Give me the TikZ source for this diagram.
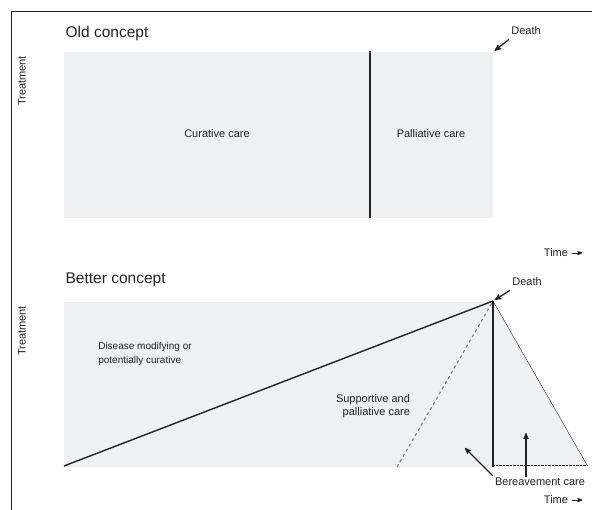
\documentclass[tikz,border=0pt]{standalone}
\usepackage{fontspec}
\setmainfont{Liberation Sans}
\usetikzlibrary{arrows}

\definecolor{areagray}{HTML}{EFF0F1}
\definecolor{inkgray}{HTML}{222222}

\begin{document}
\begin{tikzpicture}[x=1pt,y=-1pt,>=stealth',semithick,inkgray]
\tikzstyle{title}=[anchor=west,font=\fontsize{15.5pt}{18pt}\selectfont]
\tikzstyle{label}=[font=\fontsize{11pt}{13.5pt}\selectfont,inner sep=1pt]
\tikzstyle{axis}=[label,rotate=90]
\tikzset{pointer/.style={->,line width=1.3pt,shorten >=2pt}}

  \useasboundingbox (0,0) rectangle (592,510);
  % frame
  \draw[thin] (592,11) -- (11,11) -- (11,510);

  % old concept
  \fill[areagray] (64,52) rectangle (493,218);
  \draw[line width=1.8pt] (370,51) -- (370,218);
  \coordinate (death1) at (493,52);
        \node[title]                (old)     at (62,33)    {Old concept};
        \node[axis]                 (treat1)  at (22,81)    {Treatment};
        \node[label]                (cure)    at (217,134)  {Curative care};
        \node[label]                (pall)    at (431,134)  {Palliative care};
        \node[label]                (dlbl1)   at (526,31)   {Death};
        \node[label]                (time1)   at (556,253)  {Time};
  \draw[pointer] (dlbl1.south west) ++(-1,3) -- (death1);
  \draw[->,thick] (time1.east) ++(3,0) -- +(10,0);

  % better concept
  \coordinate (death2) at (493,301);
  \coordinate (left2)  at (64,466);
  \coordinate (dash2)  at (397,467);
  \coordinate (foot2)  at (493,467);
  \coordinate (tip2)   at (587,465);
  \coordinate (base2)  at (493,465);
  \fill[areagray] (64,302) rectangle (493,467);
  \fill[areagray] (death2) -- (tip2) -- (base2) -- cycle;
        \node[title]                (better)  at (62,280)   {Better concept};
        \node[axis]                 (treat2)  at (22,331)   {Treatment};
        \node[label,align=left,anchor=west,
              font=\fontsize{10pt}{14pt}\selectfont]
                                    (dis)     at (97,354)   {Disease modifying or\\potentially curative};
        \node[label,align=right]    (supp)    at (373,406)  {Supportive and\\palliative care};
        \node[label]                (dlbl2)   at (527,282)  {Death};
        \node[label]                (ber)     at (540,482)  {Bereavement care};
        \node[label]                (time2)   at (556,500)  {Time};
  \draw[line width=1.4pt] (left2) -- (death2);
  \draw[line width=1.2pt,dashed,gray] (dash2) -- (death2);
  \draw[line width=1.8pt] (death2) -- (foot2);
  \draw[thin] (death2) -- (tip2);
  \draw[thin,densely dotted] (base2) -- (tip2);
  \draw[pointer] (dlbl2.south west) ++(-1,3) -- (death2);
  \draw[->,line width=1.2pt] (ber.north -| 526,0) -- (526,433);
  \draw[->,line width=1.2pt] (ber.north west) ++(-1,-1) -- (465,448);
  \draw[->,thick] (time2.east) ++(3,0) -- +(10,0);
\end{tikzpicture}
\end{document}
